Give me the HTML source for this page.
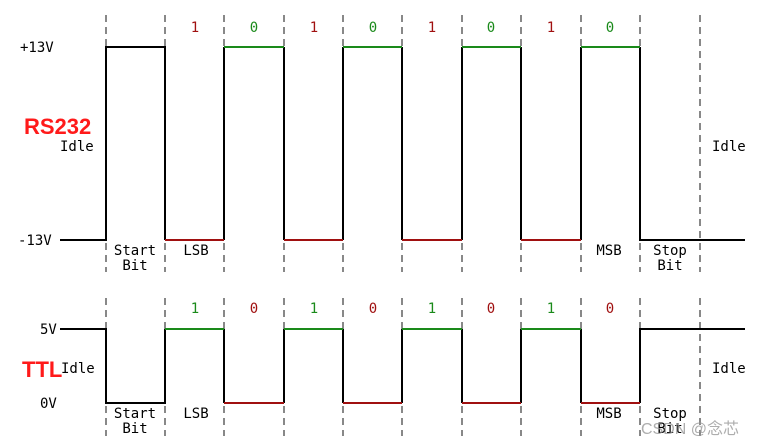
<!DOCTYPE html>
<html><head><style>body{margin:0;background:#fff}svg{display:block}</style></head><body>
<svg width="770" height="448" xmlns="http://www.w3.org/2000/svg" font-family="'DejaVu Sans Mono','Liberation Mono',monospace" font-size="14">
<g stroke="#888" stroke-width="2" stroke-dasharray="7,5">
<line x1="106" y1="15" x2="106" y2="272"/><line x1="165" y1="15" x2="165" y2="272"/><line x1="224" y1="15" x2="224" y2="272"/><line x1="284" y1="15" x2="284" y2="272"/><line x1="343" y1="15" x2="343" y2="272"/><line x1="402" y1="15" x2="402" y2="272"/><line x1="462" y1="15" x2="462" y2="272"/><line x1="521" y1="15" x2="521" y2="272"/><line x1="581" y1="15" x2="581" y2="272"/><line x1="640" y1="15" x2="640" y2="272"/><line x1="700" y1="15" x2="700" y2="272"/>
<line x1="106" y1="298" x2="106" y2="436"/><line x1="165" y1="298" x2="165" y2="436"/><line x1="224" y1="298" x2="224" y2="436"/><line x1="284" y1="298" x2="284" y2="436"/><line x1="343" y1="298" x2="343" y2="436"/><line x1="402" y1="298" x2="402" y2="436"/><line x1="462" y1="298" x2="462" y2="436"/><line x1="521" y1="298" x2="521" y2="436"/><line x1="581" y1="298" x2="581" y2="436"/><line x1="640" y1="298" x2="640" y2="436"/><line x1="700" y1="298" x2="700" y2="436"/>
</g>
<g stroke-width="2" fill="none">
<path d="M60 240H106V47H165V240M224 240V47M284 47V240M343 240V47M402 47V240M462 240V47M521 47V240M581 240V47M640 47V240H745" stroke="#000"/>
<g stroke="#a01010"><line x1="165" y1="240" x2="224" y2="240"/><line x1="284" y1="240" x2="343" y2="240"/><line x1="402" y1="240" x2="462" y2="240"/><line x1="521" y1="240" x2="581" y2="240"/></g>
<g stroke="#1a8a1a"><line x1="224" y1="47" x2="284" y2="47"/><line x1="343" y1="47" x2="402" y2="47"/><line x1="462" y1="47" x2="521" y2="47"/><line x1="581" y1="47" x2="640" y2="47"/></g>
<path d="M60 329H106V403H165V329M224 329V403M284 403V329M343 329V403M402 403V329M462 329V403M521 403V329M581 329V403M640 403V329H745" stroke="#000"/>
<g stroke="#1a8a1a"><line x1="165" y1="329" x2="224" y2="329"/><line x1="284" y1="329" x2="343" y2="329"/><line x1="402" y1="329" x2="462" y2="329"/><line x1="521" y1="329" x2="581" y2="329"/></g>
<g stroke="#a01010"><line x1="224" y1="403" x2="284" y2="403"/><line x1="343" y1="403" x2="402" y2="403"/><line x1="462" y1="403" x2="521" y2="403"/><line x1="581" y1="403" x2="640" y2="403"/></g>
</g>
<g text-anchor="middle">
<g fill="#a01010"><text x="195" y="32">1</text><text x="314" y="32">1</text><text x="432" y="32">1</text><text x="551" y="32">1</text>
<text x="254" y="313">0</text><text x="373" y="313">0</text><text x="491" y="313">0</text><text x="610" y="313">0</text></g>
<g fill="#1a8a1a"><text x="254" y="32">0</text><text x="373" y="32">0</text><text x="491" y="32">0</text><text x="610" y="32">0</text>
<text x="195" y="313">1</text><text x="314" y="313">1</text><text x="432" y="313">1</text><text x="551" y="313">1</text></g>
<g fill="#000">
<text x="135" y="255">Start</text><text x="135" y="270">Bit</text><text x="196" y="255">LSB</text><text x="609" y="255">MSB</text><text x="670" y="255">Stop</text><text x="670" y="270">Bit</text>
<text x="135" y="418">Start</text><text x="135" y="433">Bit</text><text x="196" y="418">LSB</text><text x="609" y="418">MSB</text><text x="670" y="418">Stop</text><text x="670" y="433">Bit</text>
</g></g>
<g fill="#000">
<text x="20" y="52">+13V</text><text x="18" y="245">-13V</text><text x="60" y="151">Idle</text><text x="712" y="151">Idle</text>
<text x="40" y="334">5V</text><text x="40" y="408">0V</text><text x="61" y="373">Idle</text><text x="712" y="373">Idle</text>
</g>
<text x="24" y="134" fill="#ff1a1a" font-family="'Liberation Sans',sans-serif" font-weight="bold" font-size="22">RS232</text>
<text x="22" y="377" fill="#ff1a1a" font-family="'Liberation Sans',sans-serif" font-weight="bold" font-size="22">TTL</text>
<text x="641" y="434" fill="#999" fill-opacity="0.8" font-family="'Liberation Sans','Noto Sans CJK SC',sans-serif" font-size="16">CSDN @念芯</text>
</svg>
</body></html>
